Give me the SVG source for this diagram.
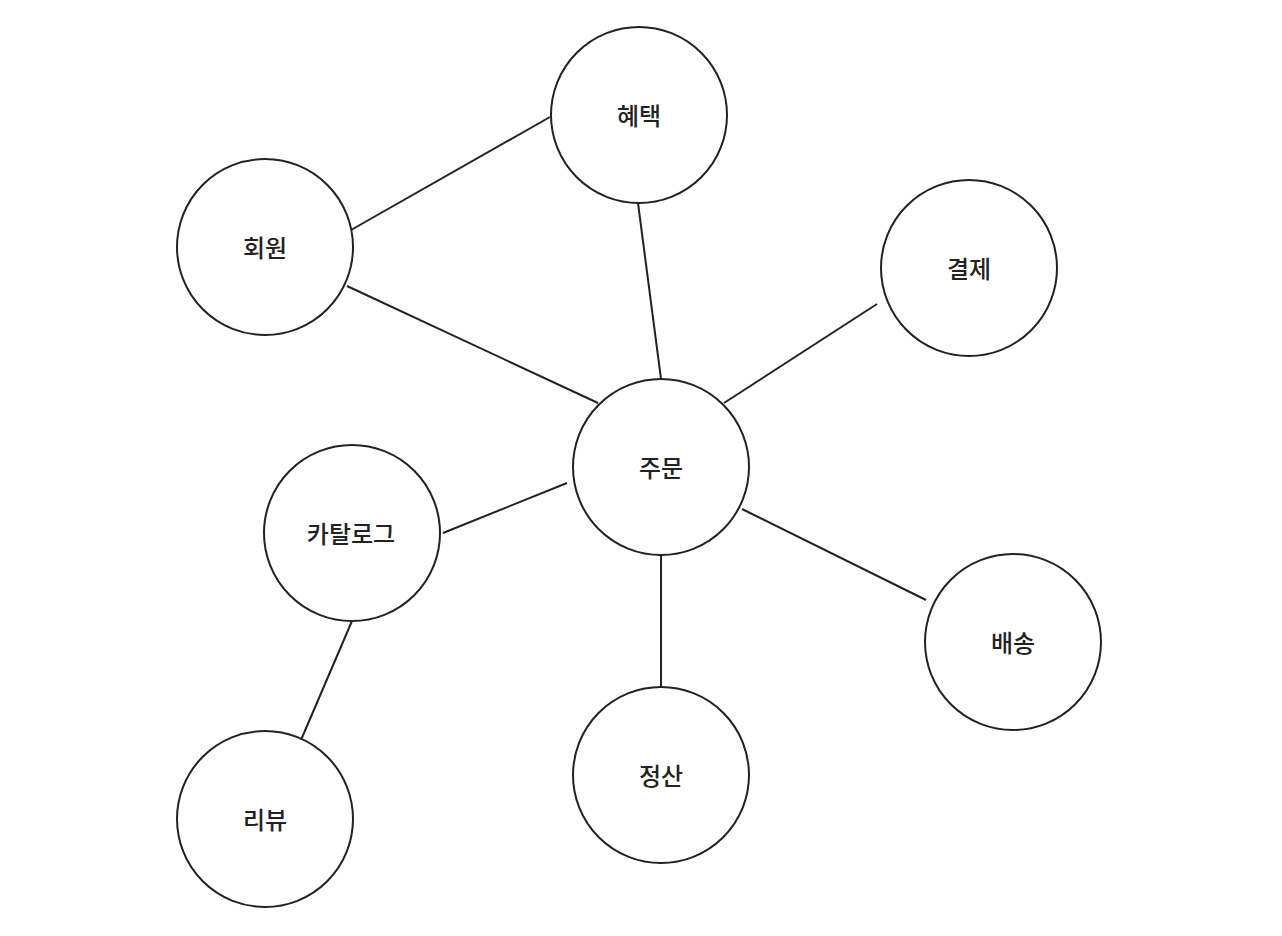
<svg xmlns="http://www.w3.org/2000/svg" width="1282" height="936" viewBox="0 0 1282 936">
<style>
.n circle{fill:#fff;stroke:#222;stroke-width:2}
.n text{font-family:"Noto Sans CJK KR","Noto Sans",sans-serif;font-size:24px;font-weight:500;fill:#222;text-anchor:middle;dominant-baseline:central}
#edges line{stroke:#222;stroke-width:2}
</style>
<rect width="1282" height="936" fill="#fff"/>
<g id="edges">
<line x1="351" y1="230" x2="550" y2="117"/>
<line x1="347" y1="286" x2="598" y2="403"/>
<line x1="638" y1="203" x2="661" y2="379"/>
<line x1="877" y1="304" x2="724" y2="403"/>
<line x1="567" y1="483" x2="443" y2="533"/>
<line x1="742" y1="509" x2="926" y2="600"/>
<line x1="661" y1="555" x2="661" y2="687"/>
<line x1="352" y1="621" x2="301" y2="740"/>
</g>
<g id="n-hyetaek" class="n"><circle cx="639" cy="115" r="88"/><text x="639" y="114">혜택</text></g>
<g id="n-hoewon" class="n"><circle cx="265" cy="247" r="88"/><text x="265" y="246">회원</text></g>
<g id="n-gyeolje" class="n"><circle cx="969" cy="268" r="88"/><text x="969" y="267">결제</text></g>
<g id="n-jumun" class="n"><circle cx="661" cy="467" r="88"/><text x="661" y="466">주문</text></g>
<g id="n-catalog" class="n"><circle cx="352" cy="533" r="88"/><text x="351" y="532">카탈로그</text></g>
<g id="n-baesong" class="n"><circle cx="1013" cy="642" r="88"/><text x="1013" y="641">배송</text></g>
<g id="n-jeongsan" class="n"><circle cx="661" cy="775" r="88"/><text x="661" y="774">정산</text></g>
<g id="n-review" class="n"><circle cx="265" cy="819" r="88"/><text x="265" y="818">리뷰</text></g>
</svg>
